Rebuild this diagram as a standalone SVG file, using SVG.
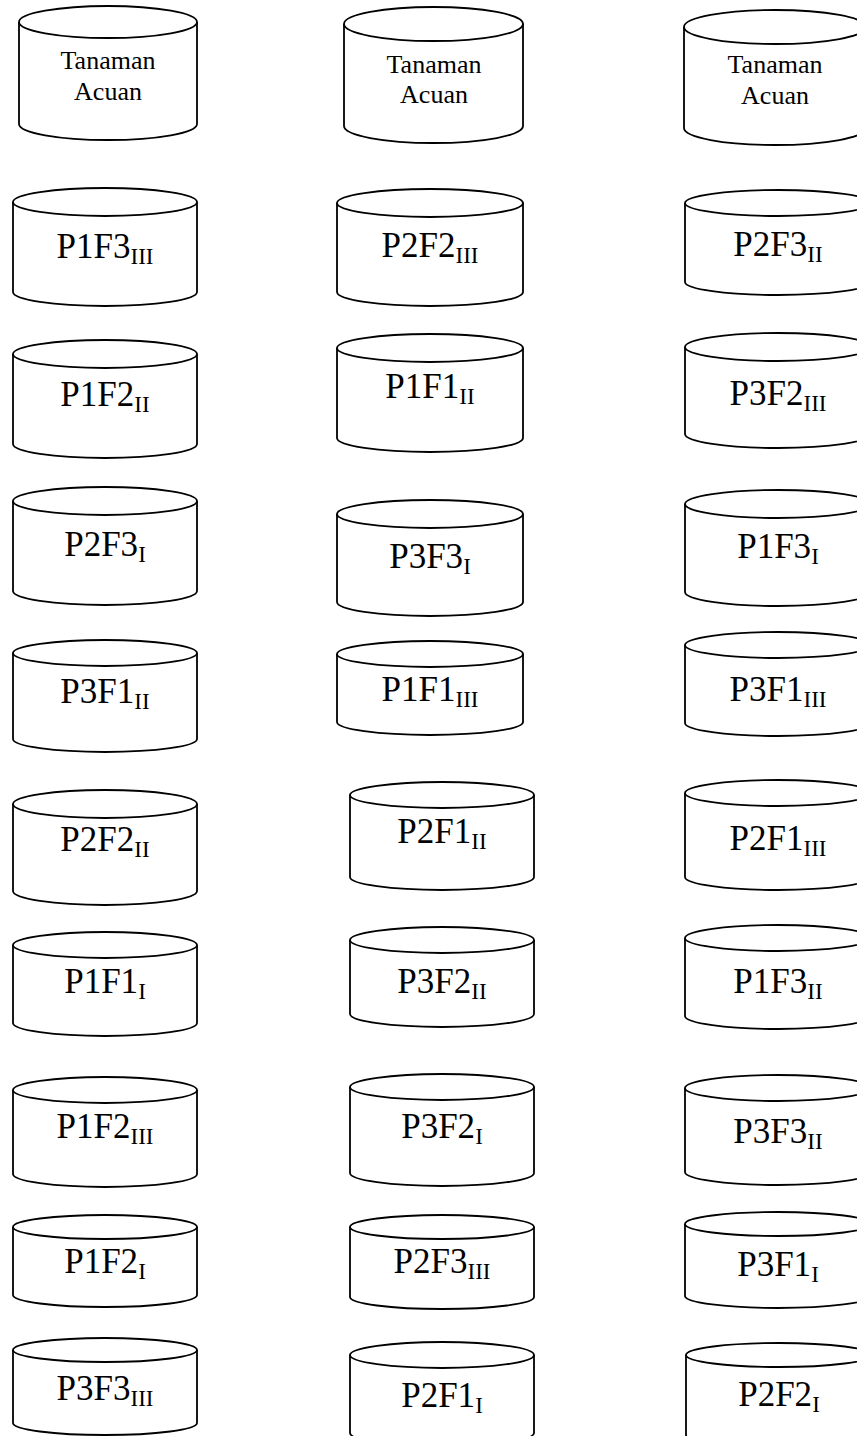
<svg xmlns="http://www.w3.org/2000/svg" width="857" height="1436" viewBox="0 0 857 1436">
  <style>
    .body { fill: #fff; stroke: #000; stroke-width: 1.8; }
    .lid { fill: #fff; stroke: #000; stroke-width: 1.8; }
    .lbl { font-family: "Liberation Serif", "Times New Roman", serif; font-size: 35px; fill: #000; text-anchor: middle; }
    .sub { font-size: 23px; }
    .ref { font-family: "Liberation Serif", "Times New Roman", serif; font-size: 26px; fill: #000; text-anchor: middle; }
  </style>
  <rect width="857" height="1436" fill="#fff"/>

  <!-- Column 1 -->
  <g id="c1-ref">
    <path class="body" d="M19,22 V124 A89,16 0 0 0 197,124 V22"/>
    <ellipse class="lid" cx="108" cy="22" rx="89" ry="16"/>
    <text class="ref" x="108" y="69">Tanaman</text>
    <text class="ref" x="108" y="100">Acuan</text>
  </g>
  <g id="c1-P1F3III">
    <path class="body" d="M13,202 V292 A92,14 0 0 0 197,292 V202"/>
    <ellipse class="lid" cx="105" cy="202" rx="92" ry="14"/>
    <text class="lbl" x="105" y="258">P1F3<tspan class="sub" dy="6">III</tspan></text>
  </g>
  <g id="c1-P1F2II">
    <path class="body" d="M13,354 V444 A92,14 0 0 0 197,444 V354"/>
    <ellipse class="lid" cx="105" cy="354" rx="92" ry="14"/>
    <text class="lbl" x="105" y="406">P1F2<tspan class="sub" dy="6">II</tspan></text>
  </g>
  <g id="c1-P2F3I">
    <path class="body" d="M13,501 V591 A92,14 0 0 0 197,591 V501"/>
    <ellipse class="lid" cx="105" cy="501" rx="92" ry="14"/>
    <text class="lbl" x="105" y="556">P2F3<tspan class="sub" dy="6">I</tspan></text>
  </g>
  <g id="c1-P3F1II">
    <path class="body" d="M13,653 V739 A92,13 0 0 0 197,739 V653"/>
    <ellipse class="lid" cx="105" cy="653" rx="92" ry="13"/>
    <text class="lbl" x="105" y="703">P3F1<tspan class="sub" dy="6">II</tspan></text>
  </g>
  <g id="c1-P2F2II">
    <path class="body" d="M13,804 V891 A92,14 0 0 0 197,891 V804"/>
    <ellipse class="lid" cx="105" cy="804" rx="92" ry="14"/>
    <text class="lbl" x="105" y="851">P2F2<tspan class="sub" dy="6">II</tspan></text>
  </g>
  <g id="c1-P1F1I">
    <path class="body" d="M13,945 V1023 A92,13 0 0 0 197,1023 V945"/>
    <ellipse class="lid" cx="105" cy="945" rx="92" ry="13"/>
    <text class="lbl" x="105" y="993">P1F1<tspan class="sub" dy="6">I</tspan></text>
  </g>
  <g id="c1-P1F2III">
    <path class="body" d="M13,1090 V1174 A92,13 0 0 0 197,1174 V1090"/>
    <ellipse class="lid" cx="105" cy="1090" rx="92" ry="13"/>
    <text class="lbl" x="105" y="1138">P1F2<tspan class="sub" dy="6">III</tspan></text>
  </g>
  <g id="c1-P1F2I">
    <path class="body" d="M13,1227 V1295 A92,12 0 0 0 197,1295 V1227"/>
    <ellipse class="lid" cx="105" cy="1227" rx="92" ry="12"/>
    <text class="lbl" x="105" y="1273">P1F2<tspan class="sub" dy="6">I</tspan></text>
  </g>
  <g id="c1-P3F3III">
    <path class="body" d="M13,1350 V1423 A92,12 0 0 0 197,1423 V1350"/>
    <ellipse class="lid" cx="105" cy="1350" rx="92" ry="12"/>
    <text class="lbl" x="105" y="1400">P3F3<tspan class="sub" dy="6">III</tspan></text>
  </g>

  <!-- Column 2 -->
  <g id="c2-ref">
    <path class="body" d="M344,24 V126 A89.5,17 0 0 0 523,126 V24"/>
    <ellipse class="lid" cx="433.5" cy="24" rx="89.5" ry="17"/>
    <text class="ref" x="434" y="73">Tanaman</text>
    <text class="ref" x="434" y="103">Acuan</text>
  </g>
  <g id="c2-P2F2III">
    <path class="body" d="M337,203 V292 A93,14 0 0 0 523,292 V203"/>
    <ellipse class="lid" cx="430" cy="203" rx="93" ry="14"/>
    <text class="lbl" x="430" y="257">P2F2<tspan class="sub" dy="6">III</tspan></text>
  </g>
  <g id="c2-P1F1II">
    <path class="body" d="M337,348 V438 A93,14 0 0 0 523,438 V348"/>
    <ellipse class="lid" cx="430" cy="348" rx="93" ry="14"/>
    <text class="lbl" x="430" y="398">P1F1<tspan class="sub" dy="6">II</tspan></text>
  </g>
  <g id="c2-P3F3I">
    <path class="body" d="M337,514 V602 A93,14 0 0 0 523,602 V514"/>
    <ellipse class="lid" cx="430" cy="514" rx="93" ry="14"/>
    <text class="lbl" x="430" y="568">P3F3<tspan class="sub" dy="6">I</tspan></text>
  </g>
  <g id="c2-P1F1III">
    <path class="body" d="M337,654 V722 A93,13 0 0 0 523,722 V654"/>
    <ellipse class="lid" cx="430" cy="654" rx="93" ry="13"/>
    <text class="lbl" x="430" y="701">P1F1<tspan class="sub" dy="6">III</tspan></text>
  </g>
  <g id="c2-P2F1II">
    <path class="body" d="M350,795 V877 A92,13 0 0 0 534,877 V795"/>
    <ellipse class="lid" cx="442" cy="795" rx="92" ry="13"/>
    <text class="lbl" x="442" y="843">P2F1<tspan class="sub" dy="6">II</tspan></text>
  </g>
  <g id="c2-P3F2II">
    <path class="body" d="M350,940 V1014 A92,13 0 0 0 534,1014 V940"/>
    <ellipse class="lid" cx="442" cy="940" rx="92" ry="13"/>
    <text class="lbl" x="442" y="993">P3F2<tspan class="sub" dy="6">II</tspan></text>
  </g>
  <g id="c2-P3F2I">
    <path class="body" d="M350,1087 V1173 A92,13 0 0 0 534,1173 V1087"/>
    <ellipse class="lid" cx="442" cy="1087" rx="92" ry="13"/>
    <text class="lbl" x="442" y="1138">P3F2<tspan class="sub" dy="6">I</tspan></text>
  </g>
  <g id="c2-P2F3III">
    <path class="body" d="M350,1227 V1297 A92,12 0 0 0 534,1297 V1227"/>
    <ellipse class="lid" cx="442" cy="1227" rx="92" ry="12"/>
    <text class="lbl" x="442" y="1273">P2F3<tspan class="sub" dy="6">III</tspan></text>
  </g>
  <g id="c2-P2F1I">
    <path class="body" d="M350,1355 V1433 A92,13 0 0 0 534,1433 V1355"/>
    <ellipse class="lid" cx="442" cy="1355" rx="92" ry="13"/>
    <text class="lbl" x="442" y="1407">P2F1<tspan class="sub" dy="6">I</tspan></text>
  </g>

  <!-- Column 3 (runs past the right edge) -->
  <g id="c3-ref">
    <path class="body" d="M684,27 V128 A91,17 0 0 0 866,128 V27"/>
    <ellipse class="lid" cx="775" cy="27" rx="91" ry="17"/>
    <text class="ref" x="775" y="73">Tanaman</text>
    <text class="ref" x="775" y="104">Acuan</text>
  </g>
  <g id="c3-P2F3II">
    <path class="body" d="M685,203 V282 A93,13 0 0 0 871,282 V203"/>
    <ellipse class="lid" cx="778" cy="203" rx="93" ry="13"/>
    <text class="lbl" x="778" y="256">P2F3<tspan class="sub" dy="6">II</tspan></text>
  </g>
  <g id="c3-P3F2III">
    <path class="body" d="M685,347 V434 A93,14 0 0 0 871,434 V347"/>
    <ellipse class="lid" cx="778" cy="347" rx="93" ry="14"/>
    <text class="lbl" x="778" y="405">P3F2<tspan class="sub" dy="6">III</tspan></text>
  </g>
  <g id="c3-P1F3I">
    <path class="body" d="M685,504 V592 A93,14 0 0 0 871,592 V504"/>
    <ellipse class="lid" cx="778" cy="504" rx="93" ry="14"/>
    <text class="lbl" x="778" y="558">P1F3<tspan class="sub" dy="6">I</tspan></text>
  </g>
  <g id="c3-P3F1III">
    <path class="body" d="M685,645 V723 A93,13 0 0 0 871,723 V645"/>
    <ellipse class="lid" cx="778" cy="645" rx="93" ry="13"/>
    <text class="lbl" x="778" y="701">P3F1<tspan class="sub" dy="6">III</tspan></text>
  </g>
  <g id="c3-P2F1III">
    <path class="body" d="M685,793 V877 A93,13 0 0 0 871,877 V793"/>
    <ellipse class="lid" cx="778" cy="793" rx="93" ry="13"/>
    <text class="lbl" x="778" y="850">P2F1<tspan class="sub" dy="6">III</tspan></text>
  </g>
  <g id="c3-P1F3II">
    <path class="body" d="M685,938 V1016 A93,13 0 0 0 871,1016 V938"/>
    <ellipse class="lid" cx="778" cy="938" rx="93" ry="13"/>
    <text class="lbl" x="778" y="993">P1F3<tspan class="sub" dy="6">II</tspan></text>
  </g>
  <g id="c3-P3F3II">
    <path class="body" d="M685,1088 V1172 A93,13 0 0 0 871,1172 V1088"/>
    <ellipse class="lid" cx="778" cy="1088" rx="93" ry="13"/>
    <text class="lbl" x="778" y="1143">P3F3<tspan class="sub" dy="6">II</tspan></text>
  </g>
  <g id="c3-P3F1I">
    <path class="body" d="M685,1224 V1296 A93,12 0 0 0 871,1296 V1224"/>
    <ellipse class="lid" cx="778" cy="1224" rx="93" ry="12"/>
    <text class="lbl" x="778" y="1276">P3F1<tspan class="sub" dy="6">I</tspan></text>
  </g>
  <g id="c3-P2F2I">
    <path class="body" d="M686,1355 V1435 A93,12 0 0 0 872,1435 V1355"/>
    <ellipse class="lid" cx="779" cy="1355" rx="93" ry="12"/>
    <text class="lbl" x="779" y="1406">P2F2<tspan class="sub" dy="6">I</tspan></text>
  </g>

  <!-- no connectors between the cylinders -->
  <g id="connectors"/>
</svg>
